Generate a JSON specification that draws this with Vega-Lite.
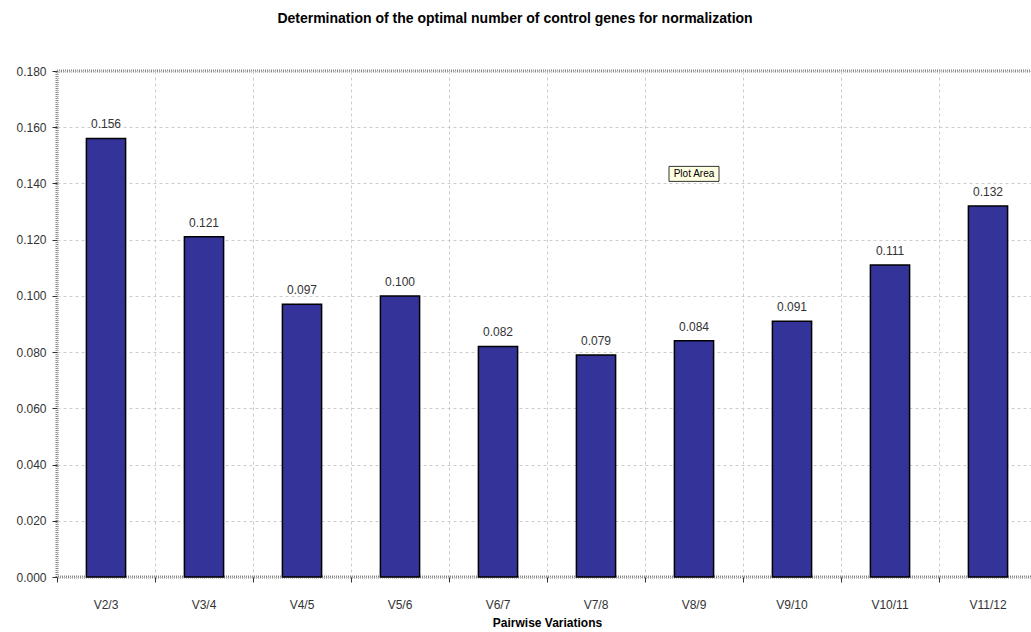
{
  "$schema": "https://vega.github.io/schema/vega-lite/v6.json",
  "autosize": "none",
  "width": 980,
  "height": 506,
  "padding": {"left": 57, "top": 71, "right": 0, "bottom": 55},
  "background": "white",
  "title": {
    "text": "Determination of the optimal number of control genes for normalization",
    "font": "Liberation Sans",
    "fontSize": 14,
    "fontWeight": "bold",
    "color": "black",
    "anchor": "middle",
    "dx": -32,
    "offset": 39
  },
  "config": {
    "view": {"stroke": "#888888", "strokeWidth": 3, "strokeDash": [1, 1]},
    "font": "Liberation Sans"
  },
  "data": {
    "values": [
      {"pair": "V2/3", "value": 0.156},
      {"pair": "V3/4", "value": 0.121},
      {"pair": "V4/5", "value": 0.097},
      {"pair": "V5/6", "value": 0.100},
      {"pair": "V6/7", "value": 0.082},
      {"pair": "V7/8", "value": 0.079},
      {"pair": "V8/9", "value": 0.084},
      {"pair": "V9/10", "value": 0.091},
      {"pair": "V10/11", "value": 0.111},
      {"pair": "V11/12", "value": 0.132}
    ]
  },
  "encoding": {
    "x": {
      "field": "pair",
      "type": "nominal",
      "sort": null,
      "scale": {"paddingInner": 0, "paddingOuter": 0},
      "axis": {
        "title": "Pairwise Variations",
        "titleFont": "Liberation Sans",
        "titleFontSize": 12,
        "titleFontWeight": "bold",
        "titleColor": "black",
        "titlePadding": 7,
        "labelAngle": 0,
        "labelFontSize": 12,
        "labelColor": "#333333",
        "labelPadding": 17,
        "labelBound": false,
        "bandPosition": 0,
        "grid": true,
        "gridColor": "#cccccc",
        "gridDash": [3, 3],
        "tickColor": "#333333",
        "tickSize": 5,
        "domain": false
      }
    },
    "y": {
      "field": "value",
      "type": "quantitative",
      "scale": {"domain": [0, 0.18], "nice": false},
      "axis": {
        "title": null,
        "format": ".3f",
        "values": [0, 0.02, 0.04, 0.06, 0.08, 0.1, 0.12, 0.14, 0.16, 0.18],
        "labelFontSize": 12,
        "labelColor": "#333333",
        "labelPadding": 6,
        "grid": true,
        "gridColor": "#cccccc",
        "gridDash": [3, 3],
        "tickColor": "#333333",
        "tickSize": 5,
        "domain": false
      }
    }
  },
  "layer": [
    {
      "mark": {"type": "bar", "color": "#333399", "stroke": "black", "strokeWidth": 1.5, "width": {"band": 0.4}}
    },
    {
      "mark": {"type": "text", "dy": -14, "fontSize": 12, "color": "#333333", "font": "Liberation Sans"},
      "encoding": {"text": {"field": "value", "type": "quantitative", "format": ".3f"}}
    },
    {
      "data": {"values": [{"pair": "V8/9", "value": 0.1434, "label": "Plot Area"}]},
      "layer": [
        {
          "mark": {"type": "rect", "width": 50, "height": 15, "fill": "#ffffe1", "stroke": "#333333", "strokeWidth": 1}
        },
        {
          "mark": {"type": "text", "fontSize": 10, "color": "black", "font": "Liberation Sans"},
          "encoding": {"text": {"field": "label", "type": "nominal"}}
        }
      ]
    }
  ]
}
